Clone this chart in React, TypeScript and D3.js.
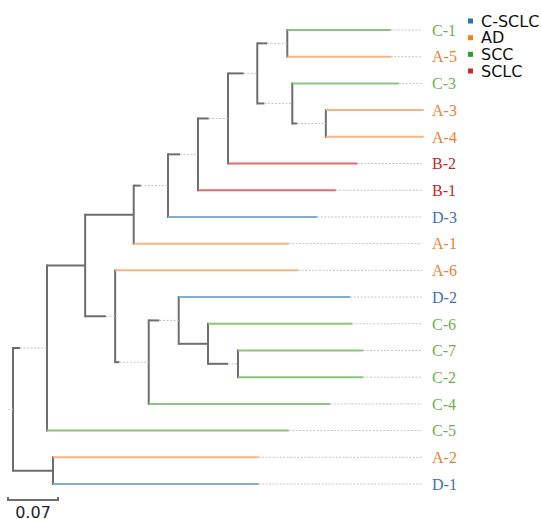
import React from "react";
import * as d3 from "d3";

// leaves, top to bottom
const leafNames = ["C-1", "A-5", "C-3", "A-3", "A-4", "B-2", "B-1", "D-3", "A-1", "A-6", "D-2", "C-6", "C-7", "C-2", "C-4", "C-5", "A-2", "D-1"];
const leafParents = ["n10", "n10", "n11", "n12", "n12", "n8", "n7", "n6", "n4", "n5", "n14", "n15", "n16", "n16", "n13", "n1", "n2", "n2"];
const leafTips = [0.529, 0.529, 0.540, 0.575, 0.575, 0.482, 0.452, 0.426, 0.386, 0.399, 0.472, 0.475, 0.490, 0.490, 0.444, 0.386, 0.344, 0.344];

// internal nodes: position of the vertical bar and solid part of the branch
const nodeIds = ["n0", "n1", "n2", "n3", "n4", "n5", "n6", "n7", "n8", "n9", "n10", "n11", "n12", "n13", "n14", "n15", "n16"];
const nodeParents = ["", "n0", "n0", "n1", "n3", "n3", "n4", "n6", "n7", "n8", "n9", "n9", "n11", "n5", "n13", "n14", "n15"];
const nodePos = [0, 0.0476, 0.056, 0.101, 0.169, 0.143, 0.217, 0.259, 0.301, 0.342, 0.384, 0.391, 0.438, 0.190, 0.232, 0.273, 0.315];
const nodeStub = [0, 0.010, 0.056, 0.0534, 0.068, 0.029, 0.010, 0.017, 0.015, 0.022, 0.014, 0.010, 0.007, 0.006, 0.015, 0.041, 0.028];

const groups = ["C-SCLC", "AD", "SCC", "SCLC"];
const groupOf: Record<string, string> = { D: "C-SCLC", A: "AD", C: "SCC", B: "SCLC" };
const legendColors = ["#1f77b4", "#ff7f0e", "#2ca02c", "#d62728"];
const lineColors = ["#80acd8", "#f9b47e", "#88c67c", "#e56c6e"];
const textColors = ["#3f70bc", "#ef7f32", "#6cb24e", "#c1272d"];

const scaleValue = 0.07;

export default function App() {
  const rows = [
    ...nodeIds.map((id, i) => ({ id, parent: nodeParents[i] || null, pos: nodePos[i], stub: nodeStub[i], leaf: false })),
    ...leafNames.map((id, i) => ({ id, parent: leafParents[i], pos: leafTips[i], stub: 0, leaf: true })),
  ];
  const root = d3.stratify<any>().id((d) => d.id).parentId((d) => d.parent)(rows);

  const x = d3.scaleLinear().domain([0, scaleValue]).range([13, 63]);
  const y = d3.scalePoint<string>().domain(leafNames).range([30, 484]);
  const grp = d3.scaleOrdinal<string, number>().domain(groups).range([0, 1, 2, 3]);

  // y of every node: leaves from the point scale, internal nodes at midpoint of children
  const yOf = new Map<string, number>();
  root.eachAfter((n: any) => {
    if (!n.children) yOf.set(n.id, y(n.id)!);
    else {
      const ys = n.children.map((c: any) => yOf.get(c.id)!);
      yOf.set(n.id, (d3.min(ys)! + d3.max(ys)!) / 2);
    }
  });

  const dotEnd = 422;
  const labelX = 432;
  const gray = "#6e6e6e";
  const dotted = "#c4c4c4";

  const els: React.ReactNode[] = [];
  root.each((n: any) => {
    const ny = yOf.get(n.id)!;
    if (n.children) {
      const ys = n.children.map((c: any) => yOf.get(c.id)!);
      els.push(<line key={"v" + n.id} x1={x(n.data.pos)} x2={x(n.data.pos)} y1={d3.min(ys)!} y2={d3.max(ys)!} stroke={gray} strokeWidth={2} strokeLinecap="square" />);
    }
    if (!n.parent) {
      els.push(<line key="rootstub" x1={x(-0.007)} x2={x(0)} y1={ny} y2={ny} stroke={dotted} strokeWidth={1} strokeDasharray="2,1.5" />);
      return;
    }
    const px = x(n.parent.data.pos);
    if (n.data.leaf) {
      const g = grp(groupOf[n.id[0]]);
      const tx = x(n.data.pos);
      els.push(<line key={"h" + n.id} x1={px} x2={tx} y1={ny} y2={ny} stroke={lineColors[g]} strokeWidth={2} />);
      if (tx < dotEnd - 2)
        els.push(<line key={"d" + n.id} x1={tx} x2={dotEnd} y1={ny} y2={ny} stroke={dotted} strokeWidth={1} strokeDasharray="2,1.5" />);
      els.push(
        <text key={"t" + n.id} x={labelX} y={ny} dy="0.36em" fill={textColors[g]} fontFamily="'Liberation Serif', 'Times New Roman', serif" fontSize={16}>
          {n.id}
        </text>
      );
    } else {
      const sx = x(n.parent.data.pos + n.data.stub);
      const cx = x(n.data.pos);
      els.push(<line key={"h" + n.id} x1={px} x2={sx} y1={ny} y2={ny} stroke={gray} strokeWidth={2} />);
      if (cx - sx > 1)
        els.push(<line key={"d" + n.id} x1={sx} x2={cx} y1={ny} y2={ny} stroke={dotted} strokeWidth={1} strokeDasharray="2,1.5" />);
    }
  });

  const ly = d3.scalePoint<string>().domain(groups).range([21, 71]);
  const barW = x(scaleValue) - x(0);

  return (
    <svg width={541} height={519} style={{ position: "absolute", left: 0, top: 0 }}>
      <rect width={541} height={519} fill="#fff" />
      {els}
      <g>
        {groups.map((gname, i) => (
          <g key={gname}>
            <rect x={468} y={ly(gname)! - 2.5} width={5} height={5} fill={legendColors[i]} />
            <text x={481} y={ly(gname)! + 5.5} fontFamily="'DejaVu Sans', sans-serif" fontSize={16} fill="#111">
              {gname}
            </text>
          </g>
        ))}
      </g>
      <g>
        <path d={`M8,497V500H${8 + barW}V497`} fill="none" stroke={gray} strokeWidth={2} />
        <text x={8 + barW / 2} y={518} textAnchor="middle" fontFamily="'DejaVu Sans', sans-serif" fontSize={16} fill="#222">
          {scaleValue}
        </text>
      </g>
    </svg>
  );
}
